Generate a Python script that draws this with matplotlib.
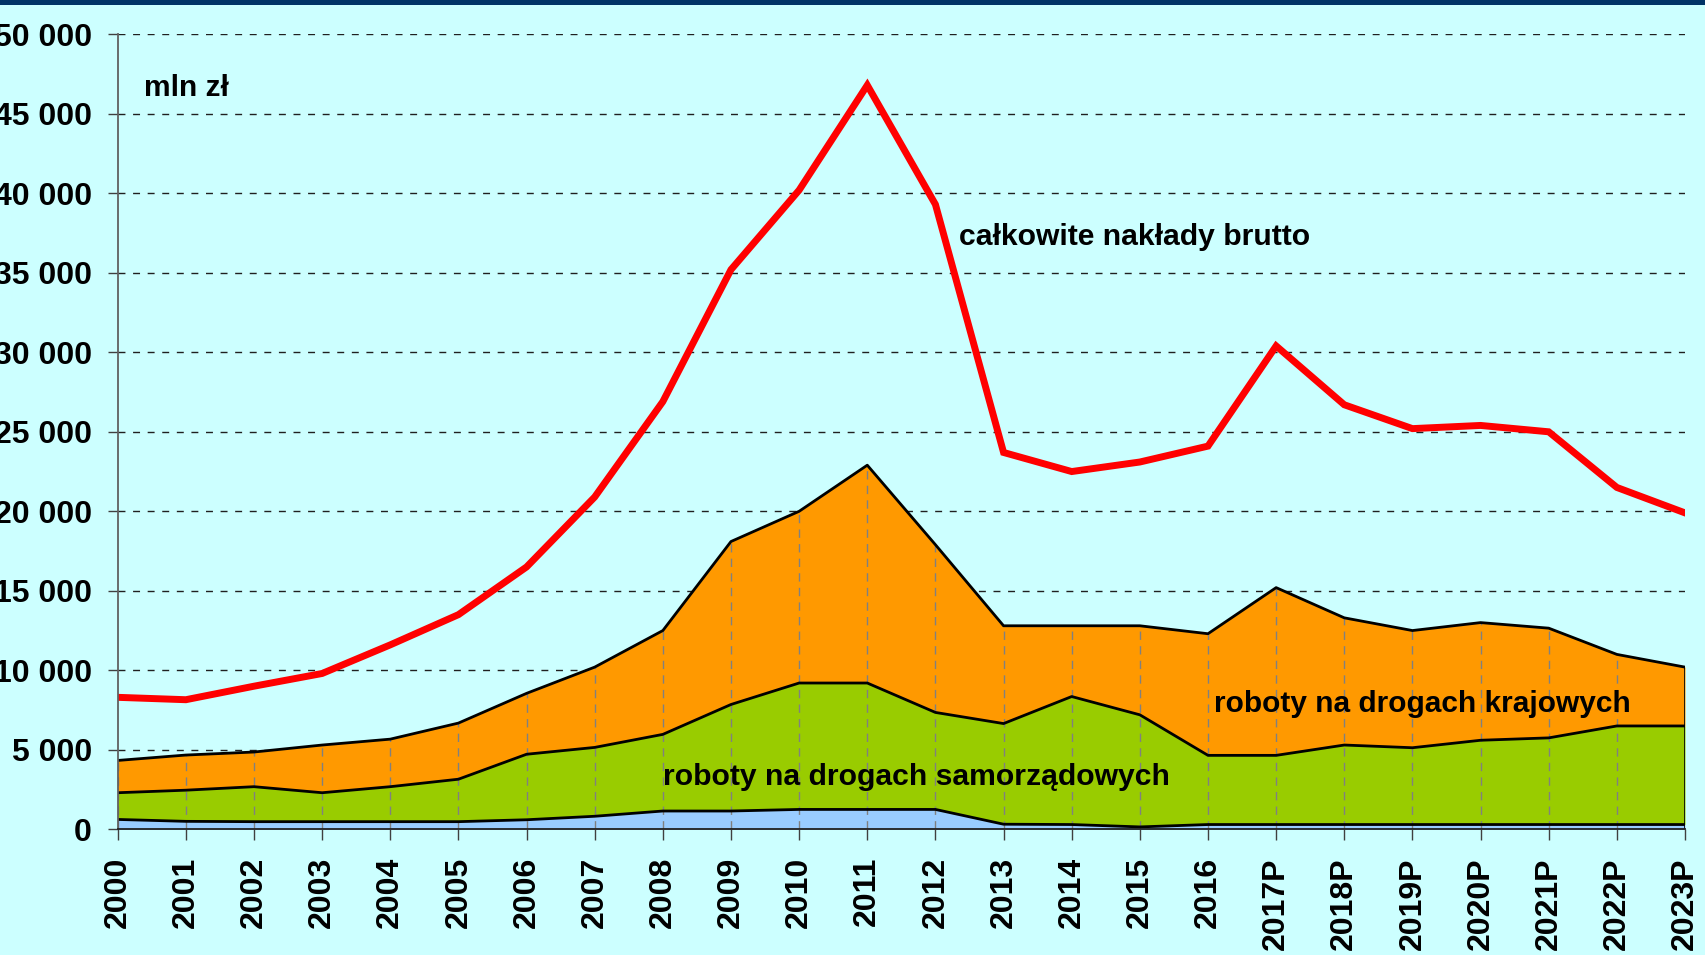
import matplotlib
matplotlib.use("Agg")
import matplotlib.pyplot as plt
from matplotlib.patches import Rectangle
import numpy as np

years = ["2000", "2001", "2002", "2003", "2004", "2005", "2006", "2007", "2008",
         "2009", "2010", "2011", "2012", "2013", "2014", "2015", "2016",
         "2017P", "2018P", "2019P", "2020P", "2021P", "2022P", "2023P"]

# stacked components (mln zł)
blue_part = [620, 500, 480, 480, 480, 480, 600, 820, 1150, 1150, 1250, 1250, 1250,
             320, 300, 150, 300, 300, 300, 300, 300, 300, 300, 300]
samorzadowe = [1680, 1960, 2200, 1820, 2200, 2670, 4120, 4330, 4820, 6700, 7950, 7950,
               6100, 6330, 8050, 7050, 4350, 4350, 5000, 4830, 5300, 5450, 6200, 6200]
krajowe = [2030, 2210, 2180, 3000, 2990, 3530, 3830, 5050, 6530, 10250, 10800, 13700,
           10550, 6150, 4450, 5600, 7650, 10550, 8000, 7370, 7400, 6900, 4500, 3700]
calkowite = [8300, 8150, 9000, 9800, 11600, 13500, 16500, 20900, 26900, 35200, 40200,
             46800, 39300, 23700, 22500, 23100, 24100, 30400, 26700, 25200, 25400,
             25000, 21500, 19900]

y_ticks = [0, 5000, 10000, 15000, 20000, 25000, 30000, 35000, 40000, 45000, 50000]
y_tick_labels = ["0", "5 000", "10 000", "15 000", "20 000", "25 000", "30 000",
                 "35 000", "40 000", "45 000", "50 000"]

BG = "#CCFFFF"
FONT = "Liberation Sans"

fig = plt.figure(figsize=(17.05, 9.55), dpi=100, facecolor=BG)
fig.patches.append(Rectangle((0, 1 - 5 / 955), 1, 5 / 955, transform=fig.transFigure,
                             facecolor="#003366", edgecolor="none", zorder=10))
ax = fig.add_axes([117.7 / 1705, 1 - 829.3 / 955, (1685 - 117.7) / 1705, (829.3 - 34.3) / 955])
ax.set_facecolor(BG)

x = np.arange(len(years))
b = np.array(blue_part)
g = b + np.array(samorzadowe)
o = g + np.array(krajowe)

ax.fill_between(x, 0, b, color="#99CCFF", lw=0, zorder=2)
ax.fill_between(x, b, g, color="#99CC00", lw=0, zorder=2)
ax.fill_between(x, g, o, color="#FF9900", lw=0, zorder=2)

# drop lines
ax.vlines(x, 0, o, colors="#808080", linestyles=(0, (6, 4.5)), lw=1.0, zorder=3)

for top in (b, g, o):
    ax.plot(x, top, color="black", lw=2.0, zorder=4, solid_joinstyle="round")
ax.plot([x[-1], x[-1]], [0, o[-1]], color="black", lw=1.2, zorder=4)

ax.plot(x, calkowite, color="#FF0000", lw=5, zorder=5, solid_joinstyle="miter")

ax.set_xlim(0, len(years) - 1)
ax.set_ylim(0, 50000)
ax.set_yticks(y_ticks)
ax.set_yticklabels(y_tick_labels, fontfamily=FONT, fontweight="bold", fontsize=23)
ax.set_xticks(x)
ax.set_xticklabels(years, rotation=90, fontfamily=FONT, fontweight="bold", fontsize=23)
ax.tick_params(axis="y", direction="out", length=7.5, width=1, color="#404040", pad=11)
ax.tick_params(axis="x", direction="out", length=8, width=1, color="#404040", pad=12)

ax.yaxis.grid(True, color="#202020", linestyle=(0, (5, 5.5)), lw=1.0)
ax.set_axisbelow(True)
for s in ("top", "right"):
    ax.spines[s].set_visible(False)
ax.spines["left"].set_color("#606060")
ax.spines["left"].set_linewidth(1.3)
ax.spines["left"].set_zorder(6)
ax.spines["bottom"].set_color("#202020")
ax.spines["bottom"].set_linewidth(1.3)
ax.spines["bottom"].set_zorder(6)

tk = dict(fontfamily=FONT, fontweight="bold", color="black", va="center", ha="left", zorder=7)
ax.text(0.39, 46600, "mln zł", fontsize=21.5, **tk)
ax.text(12.35, 37250, "całkowite nakłady brutto", fontsize=21.7, **tk)
ax.text(16.09, 7880, "roboty na drogach krajowych", fontsize=21.5, **tk)
ax.text(8.0, 3300, "roboty na drogach samorządowych", fontsize=21.7, **tk)

fig.savefig("out.png", dpi=100, facecolor=BG)
